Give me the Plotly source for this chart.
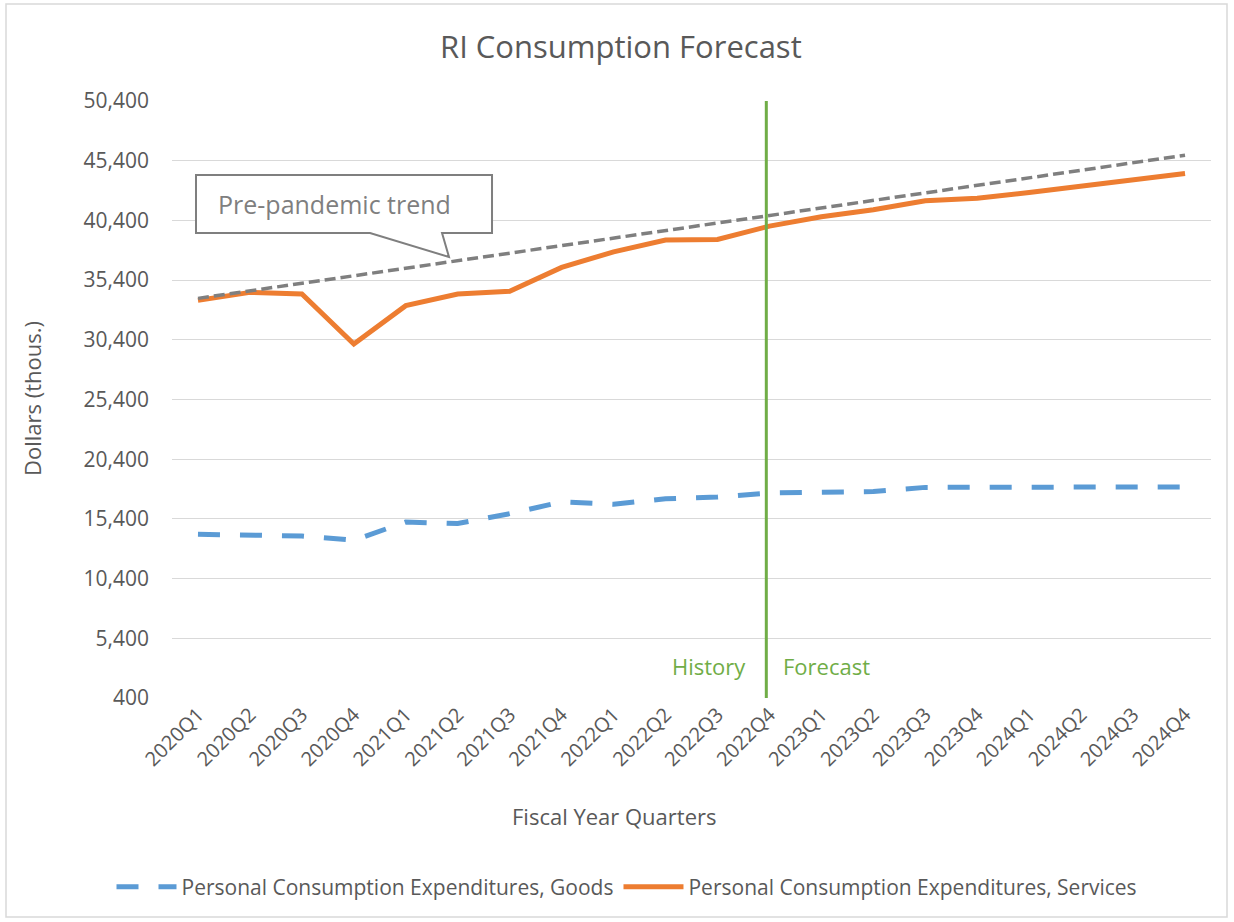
import plotly.graph_objects as go

quarters = ["2020Q1", "2020Q2", "2020Q3", "2020Q4", "2021Q1", "2021Q2", "2021Q3", "2021Q4",
            "2022Q1", "2022Q2", "2022Q3", "2022Q4", "2023Q1", "2023Q2", "2023Q3", "2023Q4",
            "2024Q1", "2024Q2", "2024Q3", "2024Q4"]
goods = [14110, 14090, 13970, 13610, 15140, 15010, 15840, 16820,
         16620, 17090, 17230, 17570, 17620, 17690, 18040, 18070,
         18100, 18100, 18070, 18070]
services = [33700, 34370, 34240, 30050, 33260, 34240, 34460, 36460,
            37770, 38750, 38800, 39920, 40700, 41290, 42040, 42260,
            42730, 43270, 43790, 44320]
trend_x = ["2020Q1", "2024Q4"]
trend_y = [33870, 45860]
y_ticks = [400, 5400, 10400, 15400, 20400, 25400, 30400, 35400, 40400, 45400, 50400]
y_tick_labels = ["400", "5,400", "10,400", "15,400", "20,400", "25,400", "30,400",
                 "35,400", "40,400", "45,400", "50,400"]
divider_pos = 10.94

FONT = "Open Sans"
GREY = "#595959"

fig = go.Figure()
fig.add_trace(go.Scatter(
    x=quarters, y=goods, mode="lines", name="Personal Consumption Expenditures, Goods",
    line=dict(color="#5B9BD5", width=5, dash="22px,20px")))
fig.add_trace(go.Scatter(
    x=quarters, y=services, mode="lines", name="Personal Consumption Expenditures, Services",
    line=dict(color="#ED7D31", width=5)))
fig.add_trace(go.Scatter(
    x=trend_x, y=trend_y, mode="lines", showlegend=False,
    line=dict(color="#7F7F7F", width=3.5, dash="11px,5px")))

L, R, T, B = 172, 1211, 101, 698
W, H = 1234, 922
pw, ph = R - L, B - T


def px(x):
    return (x - L) / pw


def py(y):
    return (B - y) / ph


# callout path
pts = [(196, 175), (492, 175), (492, 233), (442, 233), (449, 257), (370, 233), (196, 233)]
path = "M " + " L ".join(f"{px(a):.4f},{py(b):.4f}" for a, b in pts) + " Z"

shapes = [
    dict(type="rect", xref="paper", yref="paper", x0=px(6), x1=px(1227), y0=py(4), y1=py(917),
         line=dict(color="#D9D9D9", width=1.5), fillcolor="rgba(0,0,0,0)", layer="below"),
    dict(type="line", xref="x", yref="y", x0=divider_pos, x1=divider_pos, y0=400, y1=50400,
         line=dict(color="#70AD47", width=3)),
    dict(type="path", xref="paper", yref="paper", path=path,
         line=dict(color="#7F7F7F", width=2), fillcolor="white"),
]

annotations = [
    dict(text="Pre-pandemic trend", xref="paper", yref="paper", x=px(334), y=py(204),
         showarrow=False, font=dict(family=FONT, size=25, color="#7F7F7F"),
         xanchor="center", yanchor="middle"),
    dict(text="History", xref="x", yref="paper", x=divider_pos, xshift=-18, y=py(666),
         showarrow=False, font=dict(family=FONT, size=22, color="#70AD47"),
         xanchor="right", yanchor="middle"),
    dict(text="Forecast", xref="x", yref="paper", x=divider_pos, xshift=15, y=py(666),
         showarrow=False, font=dict(family=FONT, size=22, color="#70AD47"),
         xanchor="left", yanchor="middle"),
    dict(text="Dollars (thous.)", xref="paper", yref="paper", x=px(32), y=py(399),
         showarrow=False, textangle=-90, font=dict(family=FONT, size=22, color=GREY),
         xanchor="center", yanchor="middle"),
    dict(text="Fiscal Year Quarters", xref="paper", yref="paper", x=px(614), y=py(816),
         showarrow=False, font=dict(family=FONT, size=22, color=GREY),
         xanchor="center", yanchor="middle"),
    dict(text="RI Consumption Forecast", xref="paper", yref="paper", x=px(621), y=py(46),
         showarrow=False, font=dict(family=FONT, size=31, color=GREY),
         xanchor="center", yanchor="middle"),
]

fig.update_layout(
    width=W, height=H,
    margin=dict(l=L, r=W - R, t=T, b=H - B, autoexpand=False),
    paper_bgcolor="white", plot_bgcolor="white",
    font=dict(family=FONT, color=GREY),
    shapes=shapes, annotations=annotations,
    legend=dict(orientation="h", xref="paper", yref="paper", x=px(627), y=py(887),
                xanchor="center", yanchor="middle", itemwidth=60,
                font=dict(family=FONT, size=21, color=GREY), bgcolor="rgba(0,0,0,0)"),
    xaxis=dict(type="category", range=[-0.5, 19.5], showgrid=False, zeroline=False,
               showline=False, ticks="", tickangle=-45,
               tickfont=dict(family=FONT, size=20, color=GREY)),
    yaxis=dict(range=[400, 50400], tickvals=y_ticks, ticktext=y_tick_labels,
               showgrid=True, gridcolor="#D9D9D9", gridwidth=1.3, zeroline=False,
               showline=False, ticks="", ticklabelstandoff=22,
               tickfont=dict(family=FONT, size=21, color=GREY)),
)

fig.write_html(
    "out.html",
    config={"displayModeBar": False},
    post_script="document.body.style.margin='0px';document.body.style.overflow='hidden';",
)
